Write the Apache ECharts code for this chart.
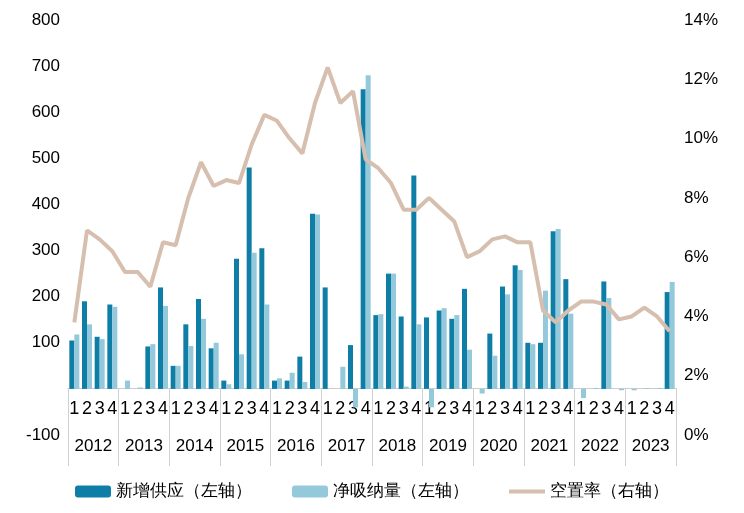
<!DOCTYPE html><html><head><meta charset="utf-8">
<script src="https://cdn.jsdelivr.net/npm/echarts@6/dist/echarts.min.js"></script>
<style>html,body{margin:0;padding:0;background:#fff}#c{width:744px;height:513px}</style></head><body><div id="c"></div><script>
const years=['2012','2013','2014','2015','2016','2017','2018','2019','2020','2021','2022','2023'];
const quarters=years.flatMap(()=>['1','2','3','4']);
const newSupply=[105,190,113,183, 0,0,92,220, 50,140,195,88, 18,282,480,305, 18,18,70,380, 220,0,95,650, 160,250,157,463, 155,170,152,217, 0,120,222,268, 100,100,342,238, 0,0,233,0, 0,0,0,210];
const netAbsorption=[118,140,108,178, 18,3,97,180, 50,93,152,100, 10,75,295,183, 23,35,15,378, 0,48,-40,680, 162,250,5,140, -40,175,160,85, -10,72,205,258, 97,213,347,163, -20,2,197,-3, -3,2,2,232];
const vacancy=[3.8,6.9,6.6,6.2, 5.5,5.5,5.0,6.5, 6.4,8.0,9.2,8.4, 8.6,8.5,9.8,10.8, 10.6,10.0,9.5,11.2, 12.4,11.2,11.6,9.3, 9.0,8.5,7.6,7.6, 8.0,7.6,7.2,6.0, 6.2,6.6,6.7,6.5, 6.5,4.2,3.8,4.2, 4.5,4.5,4.4,3.9, 4.0,4.3,4.0,3.5];
const F='"Liberation Sans", Arial, sans-serif';
const ch=echarts.init(document.getElementById('c'));
ch.setOption({
 animation:false,
 textStyle:{fontFamily:F},
 grid:{left:68,right:68,top:20,bottom:78},
 legend:{bottom:8,left:'center',itemGap:40,itemWidth:36,itemHeight:12,textStyle:{fontSize:17,color:'#000',fontFamily:F},
   data:[{name:'新增供应（左轴）'},{name:'净吸纳量（左轴）'},{name:'空置率（右轴）',icon:'path://M0,0h36v4h-36z'}]},
 xAxis:[
  {type:'category',data:quarters,position:'bottom',offset:-47,axisLine:{onZero:false,lineStyle:{color:'#ccc'}},axisTick:{show:false},
   axisLabel:{interval:0,fontSize:18,color:'#000',margin:12}},
  {type:'category',data:years,position:'bottom',offset:-47,axisLine:{show:false},
   axisTick:{show:true,length:78,interval:0,lineStyle:{color:'#d0d0d0'}},
   axisLabel:{interval:0,fontSize:17,color:'#000',margin:50}}
 ],
 yAxis:[
  {type:'value',min:-100,max:800,interval:100,splitLine:{show:false},axisLine:{show:false},axisTick:{show:false},
   axisLabel:{fontSize:17,color:'#000',formatter:v=>v===0?'':v}},
  {type:'value',min:0,max:14,interval:2,splitLine:{show:false},axisLine:{show:false},axisTick:{show:false},
   axisLabel:{fontSize:17,color:'#000',formatter:v=>v+'%'}}
 ],
 series:[
  {name:'新增供应（左轴）',type:'bar',data:newSupply,barWidth:5,barGap:'0%',itemStyle:{color:'#0f7ea6'}},
  {name:'净吸纳量（左轴）',type:'bar',data:netAbsorption,barWidth:5,itemStyle:{color:'#93c9da'}},
  {name:'空置率（右轴）',type:'line',yAxisIndex:1,data:vacancy,symbol:'none',lineStyle:{color:'#d6bfae',width:4},itemStyle:{color:'#d6bfae'}}
 ]
});
</script></body></html>
